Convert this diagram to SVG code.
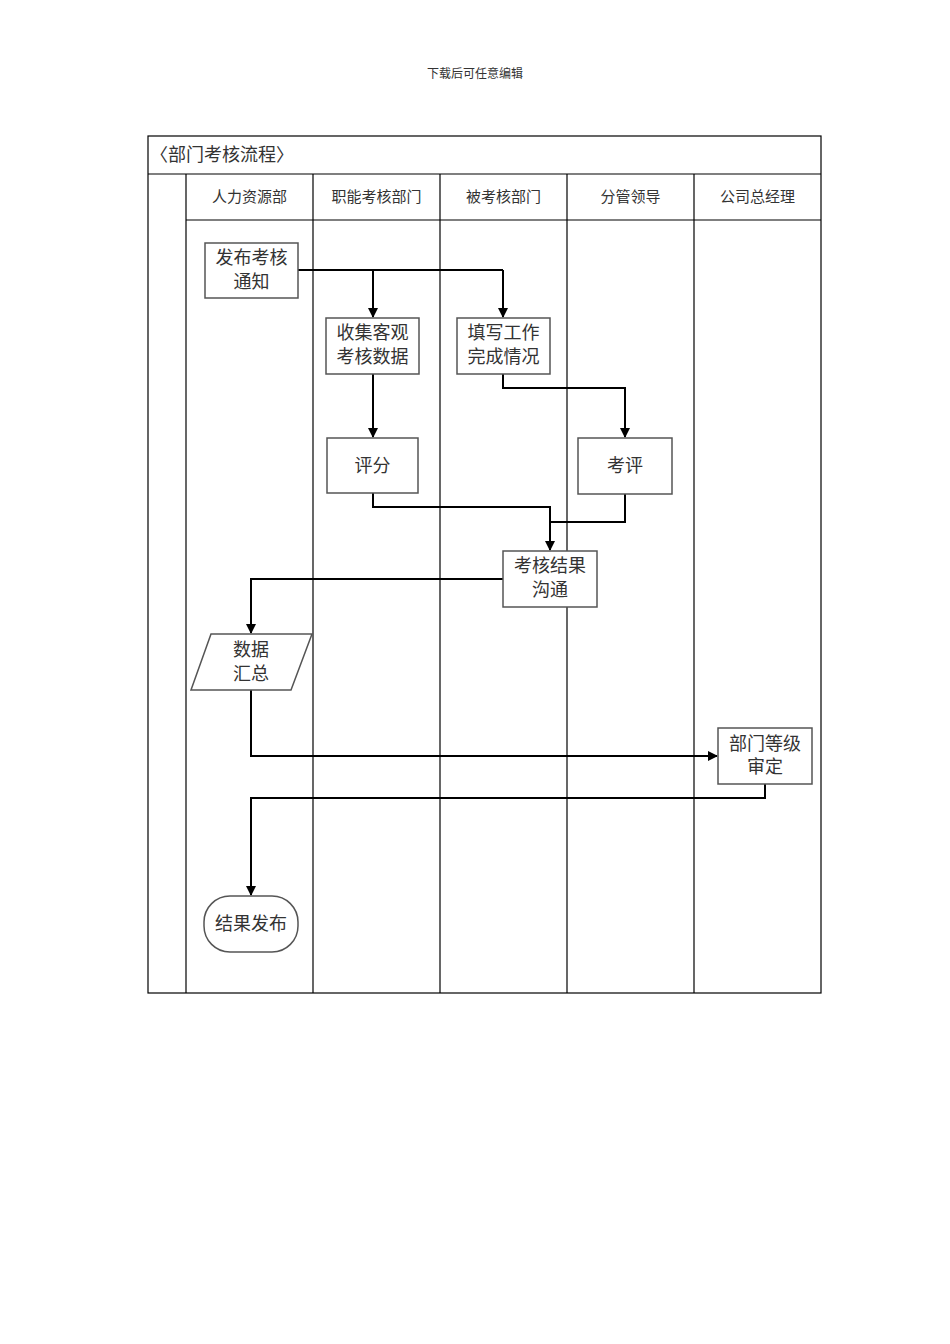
<svg xmlns="http://www.w3.org/2000/svg" width="950" height="1344" viewBox="0 0 950 1344">
<style>
text{font-family:"Liberation Serif","Noto Sans CJK SC",serif;fill:#333}
.hd{font-size:15px;text-anchor:middle}
.nt{font-size:18px;text-anchor:middle}
.lane{stroke:#000;stroke-width:1.2;fill:none}
.box{fill:#fff;stroke:#555;stroke-width:1.5}
.cn{stroke:#000;stroke-width:2;fill:none}
</style>
<defs>
<marker id="ah" markerWidth="10" markerHeight="10" refX="9" refY="5" orient="auto" markerUnits="userSpaceOnUse">
<path d="M0,0 L10,5 L0,10 z" fill="#000"/>
</marker>
</defs>
<rect width="950" height="1344" fill="#fff"/>
<text x="475" y="78" style="font-size:12px;text-anchor:middle">下载后可任意编辑</text>
<g id="frame">
<rect class="lane" x="148" y="136" width="673" height="857"/>
<line class="lane" x1="148" y1="174" x2="821" y2="174"/>
<line class="lane" x1="186" y1="220" x2="821" y2="220"/>
<line class="lane" x1="186" y1="174" x2="186" y2="993"/>
<line class="lane" x1="313" y1="174" x2="313" y2="993"/>
<line class="lane" x1="440" y1="174" x2="440" y2="993"/>
<line class="lane" x1="567" y1="174" x2="567" y2="993"/>
<line class="lane" x1="694" y1="174" x2="694" y2="993"/>
<text x="150" y="161" style="font-size:18px">〈部门考核流程〉</text>
<text class="hd" x="249.5" y="202">人力资源部</text>
<text class="hd" x="376.5" y="202">职能考核部门</text>
<text class="hd" x="503.5" y="202">被考核部门</text>
<text class="hd" x="630.5" y="202">分管领导</text>
<text class="hd" x="757.5" y="202">公司总经理</text>
</g>
<g id="connectors">
<polyline class="cn" points="298,270 503,270"/>
<polyline class="cn" points="373,270 373,317" marker-end="url(#ah)"/>
<polyline class="cn" points="503,270 503,317" marker-end="url(#ah)"/>
<polyline class="cn" points="373,374 373,437" marker-end="url(#ah)"/>
<polyline class="cn" points="503,374 503,388 625,388 625,437" marker-end="url(#ah)"/>
<polyline class="cn" points="373,493 373,507 550,507 550,550" marker-end="url(#ah)"/>
<polyline class="cn" points="625,494 625,522 550,522"/>
<polyline class="cn" points="503,579 251,579 251,633" marker-end="url(#ah)"/>
<polyline class="cn" points="251,690 251,756 717,756" marker-end="url(#ah)"/>
<polyline class="cn" points="765,784 765,798 251,798 251,895" marker-end="url(#ah)"/>
</g>
<g id="n1"><rect class="box" x="205" y="243" width="93" height="55"/><text class="nt" x="251.5" y="264">发布考核</text><text class="nt" x="251.5" y="288">通知</text></g>
<g id="n2"><rect class="box" x="326" y="318" width="93" height="56"/><text class="nt" x="372.5" y="339">收集客观</text><text class="nt" x="372.5" y="363">考核数据</text></g>
<g id="n3"><rect class="box" x="457" y="318" width="93" height="56"/><text class="nt" x="503.5" y="339">填写工作</text><text class="nt" x="503.5" y="363">完成情况</text></g>
<g id="n4"><rect class="box" x="327" y="438" width="91" height="55"/><text class="nt" x="372.5" y="472">评分</text></g>
<g id="n5"><rect class="box" x="578" y="438" width="94" height="56"/><text class="nt" x="625" y="472">考评</text></g>
<g id="n6"><rect class="box" x="503" y="551" width="94" height="56"/><text class="nt" x="550" y="572">考核结果</text><text class="nt" x="550" y="596">沟通</text></g>
<g id="n7"><polygon class="box" points="211,634 312,634 291,690 191,690"/><text class="nt" x="251" y="656">数据</text><text class="nt" x="251" y="680">汇总</text></g>
<g id="n8"><rect class="box" x="718" y="728" width="94" height="56"/><text class="nt" x="765" y="750">部门等级</text><text class="nt" x="765" y="773">审定</text></g>
<g id="n9"><rect class="box" x="204" y="896" width="94" height="56" rx="26" ry="26"/><text class="nt" x="251" y="930">结果发布</text></g>
</svg>
